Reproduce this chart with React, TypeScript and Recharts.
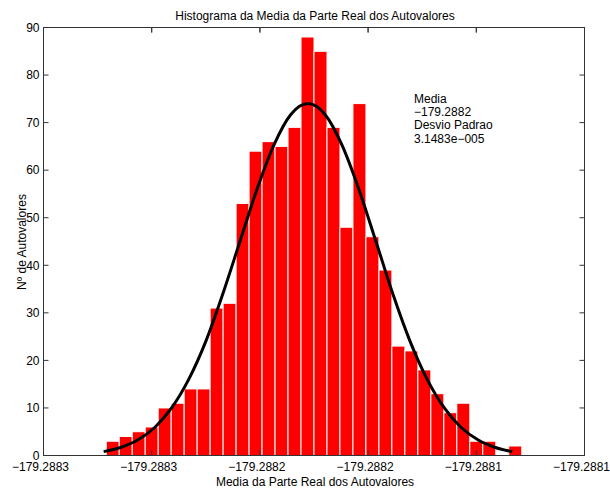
import React from 'react';
import { ComposedChart, Bar, Line, XAxis, YAxis, ReferenceLine } from 'recharts';

// Histogram bins (centres) and counts
const binCenters = [
  -179.288318, -179.288312, -179.288306, -179.2883, -179.288294, -179.288288,
  -179.288282, -179.288276, -179.28827, -179.288264, -179.288258, -179.288252,
  -179.288246, -179.28824, -179.288234, -179.288228, -179.288222, -179.288216,
  -179.28821, -179.288204, -179.288198, -179.288192, -179.288186, -179.28818,
  -179.288174, -179.288168, -179.288162, -179.288156, -179.28815, -179.288144,
  -179.288138, -179.288132,
];
const binCounts = [
  3, 4, 5, 6, 10, 11, 14, 14, 31, 32, 53, 64, 66, 65, 69, 88, 85, 69, 48, 74,
  46, 39, 23, 22, 18, 13, 9, 11, 3, 3, 0, 2,
];

// Fitted normal curve
const fitX = [
  -179.2883222, -179.2883144, -179.2883065, -179.2882986, -179.2882908,
  -179.2882829, -179.288275, -179.2882672, -179.2882593, -179.2882514,
  -179.2882435, -179.2882357, -179.2882278, -179.2882199, -179.2882121,
  -179.2882042, -179.2881963, -179.2881885, -179.2881806, -179.2881727,
  -179.2881648, -179.288157, -179.2881491, -179.2881412, -179.2881334,
];
const fitY = [
  0.82, 1.69, 3.25, 5.89, 10.0, 16.0, 24.0, 33.9, 44.9, 55.9, 65.3, 71.7, 74.0,
  71.7, 65.3, 55.9, 44.9, 33.9, 24.0, 16.0, 10.0, 5.89, 3.25, 1.69, 0.82,
];

const xDomain = [-179.28835, -179.2881];
const xTickValues = [-179.28835, -179.2883, -179.28825, -179.2882, -179.28815, -179.2881];
const xTickLabels = ['−179.2883', '−179.2883', '−179.2882', '−179.2882', '−179.2881', '−179.2881'];
const yDomain = [0, 90];
const yTicks = [0, 10, 20, 30, 40, 50, 60, 70, 80, 90];

const titleText = 'Histograma da Media da Parte Real dos Autovalores';
const xTitle = 'Media da Parte Real dos Autovalores';
const yTitle = 'Nº de Autovalores';
const annotationLines = ['Media', '−179.2882', 'Desvio Padrao', '3.1483e−005'];

const FONT = '"Liberation Sans", Arial, Helvetica, sans-serif';
const AXIS = '#333';

export default function App() {
  const histData = binCenters.map((x, i) => ({ x, count: binCounts[i] }));
  const fitData = fitX.map((x, i) => ({ x, fit: fitY[i] }));
  const tickStyle = { fill: '#000', fontSize: 12, fontFamily: FONT };
  // inner tick length on the top edge, in y units (about 5 px)
  const topTickLen = 1.05;

  return (
    <div style={{ position: 'absolute', left: 0, top: 0, width: 610, height: 495, background: '#fff' }}>
      <ComposedChart
        width={610}
        height={495}
        data={histData}
        margin={{ top: 22.5, right: 20.5, bottom: 0, left: 0 }}
        barCategoryGap={0}
        barGap={0}
      >
        <XAxis
          xAxisId={0}
          type="number"
          dataKey="x"
          domain={xDomain}
          allowDataOverflow
          ticks={xTickValues}
          interval={0}
          tickFormatter={(v, i) => xTickLabels[i]}
          height={39.5}
          stroke={AXIS}
          tickSize={-5}
          tickMargin={12}
          tick={{ ...tickStyle, dx: -3 }}
        />
        <XAxis
          xAxisId="top"
          orientation="top"
          type="number"
          dataKey="x"
          domain={xDomain}
          allowDataOverflow
          ticks={xTickValues}
          interval={0}
          height={5}
          stroke={AXIS}
          tickSize={-5}
          tickFormatter={() => ''}
        />
        <YAxis
          yAxisId={0}
          type="number"
          domain={yDomain}
          allowDataOverflow
          ticks={yTicks}
          interval={0}
          width={43.5}
          stroke={AXIS}
          tickSize={-5}
          tickMargin={9}
          tick={tickStyle}
        />
        <YAxis
          yAxisId="right"
          orientation="right"
          type="number"
          domain={yDomain}
          allowDataOverflow
          ticks={yTicks}
          interval={0}
          width={5}
          stroke={AXIS}
          tickSize={-5}
          tickFormatter={() => ''}
        />
        <Bar
          xAxisId={0}
          yAxisId={0}
          dataKey="count"
          fill="#ff0000"
          stroke="#ffffff"
          strokeWidth={1}
          isAnimationActive={false}
        />
        <Line
          xAxisId="top"
          yAxisId={0}
          data={fitData}
          dataKey="fit"
          type="monotone"
          stroke="#000"
          strokeWidth={3}
          dot={false}
          activeDot={false}
          isAnimationActive={false}
        />
        {xTickValues.slice(1, -1).map((v) => (
          <ReferenceLine
            key={v}
            xAxisId={0}
            yAxisId={0}
            ifOverflow="visible"
            stroke={AXIS}
            segment={[
              { x: v, y: yDomain[1] - 0.1 },
              { x: v, y: yDomain[1] - topTickLen },
            ]}
          />
        ))}
      </ComposedChart>
      <svg
        width={610}
        height={495}
        style={{ position: 'absolute', left: 0, top: 0, pointerEvents: 'none' }}
        fontFamily={FONT}
        fontSize={12}
      >
        <rect x={43.5} y={27.5} width={541} height={428} fill="none" stroke={AXIS} strokeWidth={1} />
        <text x={315} y={20} textAnchor="middle" fill="#000">{titleText}</text>
        <text x={315} y={486} textAnchor="middle" fill="#000">{xTitle}</text>
        <text
          x={22}
          y={242}
          textAnchor="middle"
          dominantBaseline="central"
          transform="rotate(-90 22 242)"
          fill="#000"
        >
          {yTitle}
        </text>
        {annotationLines.map((t, i) => (
          <text key={i} x={414} y={102.5 + i * 13.4} fill="#000">{t}</text>
        ))}
      </svg>
    </div>
  );
}
